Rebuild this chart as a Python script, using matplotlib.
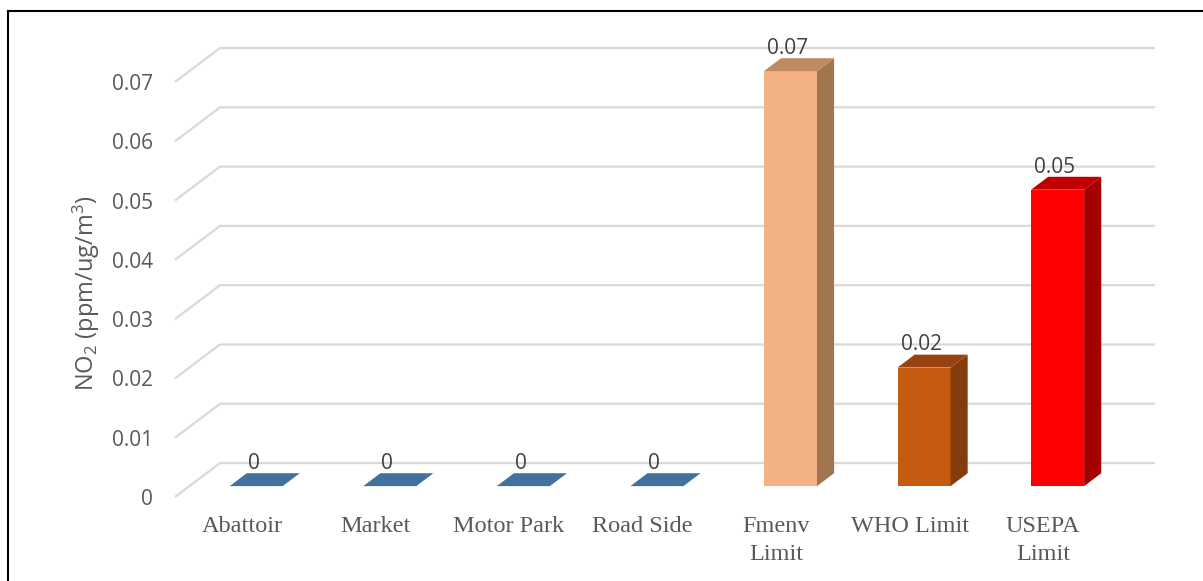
import numpy as np
import matplotlib.pyplot as plt
from matplotlib.patches import Polygon
from matplotlib.lines import Line2D

plt.rcParams['mathtext.default'] = 'regular'

categories = ['Abattoir', 'Market', 'Motor Park', 'Road Side', 'Fmenv\nLimit', 'WHO Limit', 'USEPA\nLimit']
values = [0, 0, 0, 0, 0.07, 0.02, 0.05]
front_colors = ['#41719C', '#41719C', '#41719C', '#41719C', '#F4B183', '#C55A11', '#FF0000']
side_colors = ['#41719C', '#41719C', '#41719C', '#41719C', '#A0754F', '#843C0C', '#A50000']
top_colors = ['#41719C', '#41719C', '#41719C', '#41719C', '#BE8A63', '#974210', '#C00000']
yticks = [0, 0.01, 0.02, 0.03, 0.04, 0.05, 0.06, 0.07]
ytick_labels = ['0', '0.01', '0.02', '0.03', '0.04', '0.05', '0.06', '0.07']

# fake 3d depth (full floor depth in data units)
dx = 0.337
dy = 0.00573
f1, f2 = 0.32, 0.70   # bar front/back as a fraction of the floor depth
w = 0.397

fig = plt.figure(figsize=(12.03, 5.81), dpi=100)
W, H = 1203, 581
ax = fig.add_axes([175 / W, (H - 497) / H, 935 / W, (497 - 22.7) / H])
ax.set_xlim(-0.5, len(categories) - 0.5)
ax.set_ylim(0, 0.08)
for s in ax.spines.values():
    s.set_visible(False)

# grid lines: diagonal on the side wall, then along the back wall
xl, xr = -0.5, len(categories) - 0.5
for v in yticks:
    ax.plot([xl, xl + dx, xr + dx], [v, v + dy, v + dy], color='#D9D9D9', lw=1.6,
            clip_on=False, zorder=1, solid_capstyle='butt')

ddx = (f2 - f1) * dx
ddy = (f2 - f1) * dy
for i, v in enumerate(values):
    x0 = i - w / 2 + f1 * dx
    x1 = i + w / 2 + f1 * dx
    b = f1 * dy
    if v > 0:
        ax.add_patch(Polygon([(x0, b), (x1, b), (x1, b + v), (x0, b + v)],
                             closed=True, fc=front_colors[i], ec='none', zorder=3))
        ax.add_patch(Polygon([(x1, b), (x1 + ddx, b + ddy), (x1 + ddx, b + v + ddy), (x1, b + v)],
                             closed=True, fc=side_colors[i], ec='none', zorder=3))
    ax.add_patch(Polygon([(x0, b + v), (x1, b + v), (x1 + ddx, b + v + ddy), (x0 + ddx, b + v + ddy)],
                         closed=True, fc=top_colors[i], ec='none', zorder=3, clip_on=False))
    lab = '0' if v == 0 else f'{v:g}'
    ax.annotate(lab, (i + f1 * dx - 0.02, b + v + ddy), xytext=(0, 7), textcoords='offset points',
                ha='center', va='center', fontsize=15, family='Open Sans', color='#404040',
                zorder=4, annotation_clip=False)

ax.set_yticks(yticks)
ax.set_yticklabels(ytick_labels, family='Open Sans', fontsize=15, color='#595959')
ax.tick_params(axis='y', length=0, pad=16)
ax.set_xticks(range(len(categories)))
ax.set_xticklabels(categories, family='Liberation Serif', fontsize=17.5, color='#595959', linespacing=1.4)
ax.tick_params(axis='x', length=0, pad=14)

ax.set_ylabel('NO$_2$ (ppm/ug/m$^3$)', family='Open Sans', fontsize=17, color='#595959')
ax.yaxis.set_label_coords(-0.078, 0.43)

# black frame on top and left
fig.add_artist(Line2D([8 / W, 1], [1 - 11 / H, 1 - 11 / H], color='black', lw=1.5))
fig.add_artist(Line2D([8 / W, 8 / W], [0, 1 - 11 / H], color='black', lw=1.5))

fig.savefig('out.png', dpi=100)
